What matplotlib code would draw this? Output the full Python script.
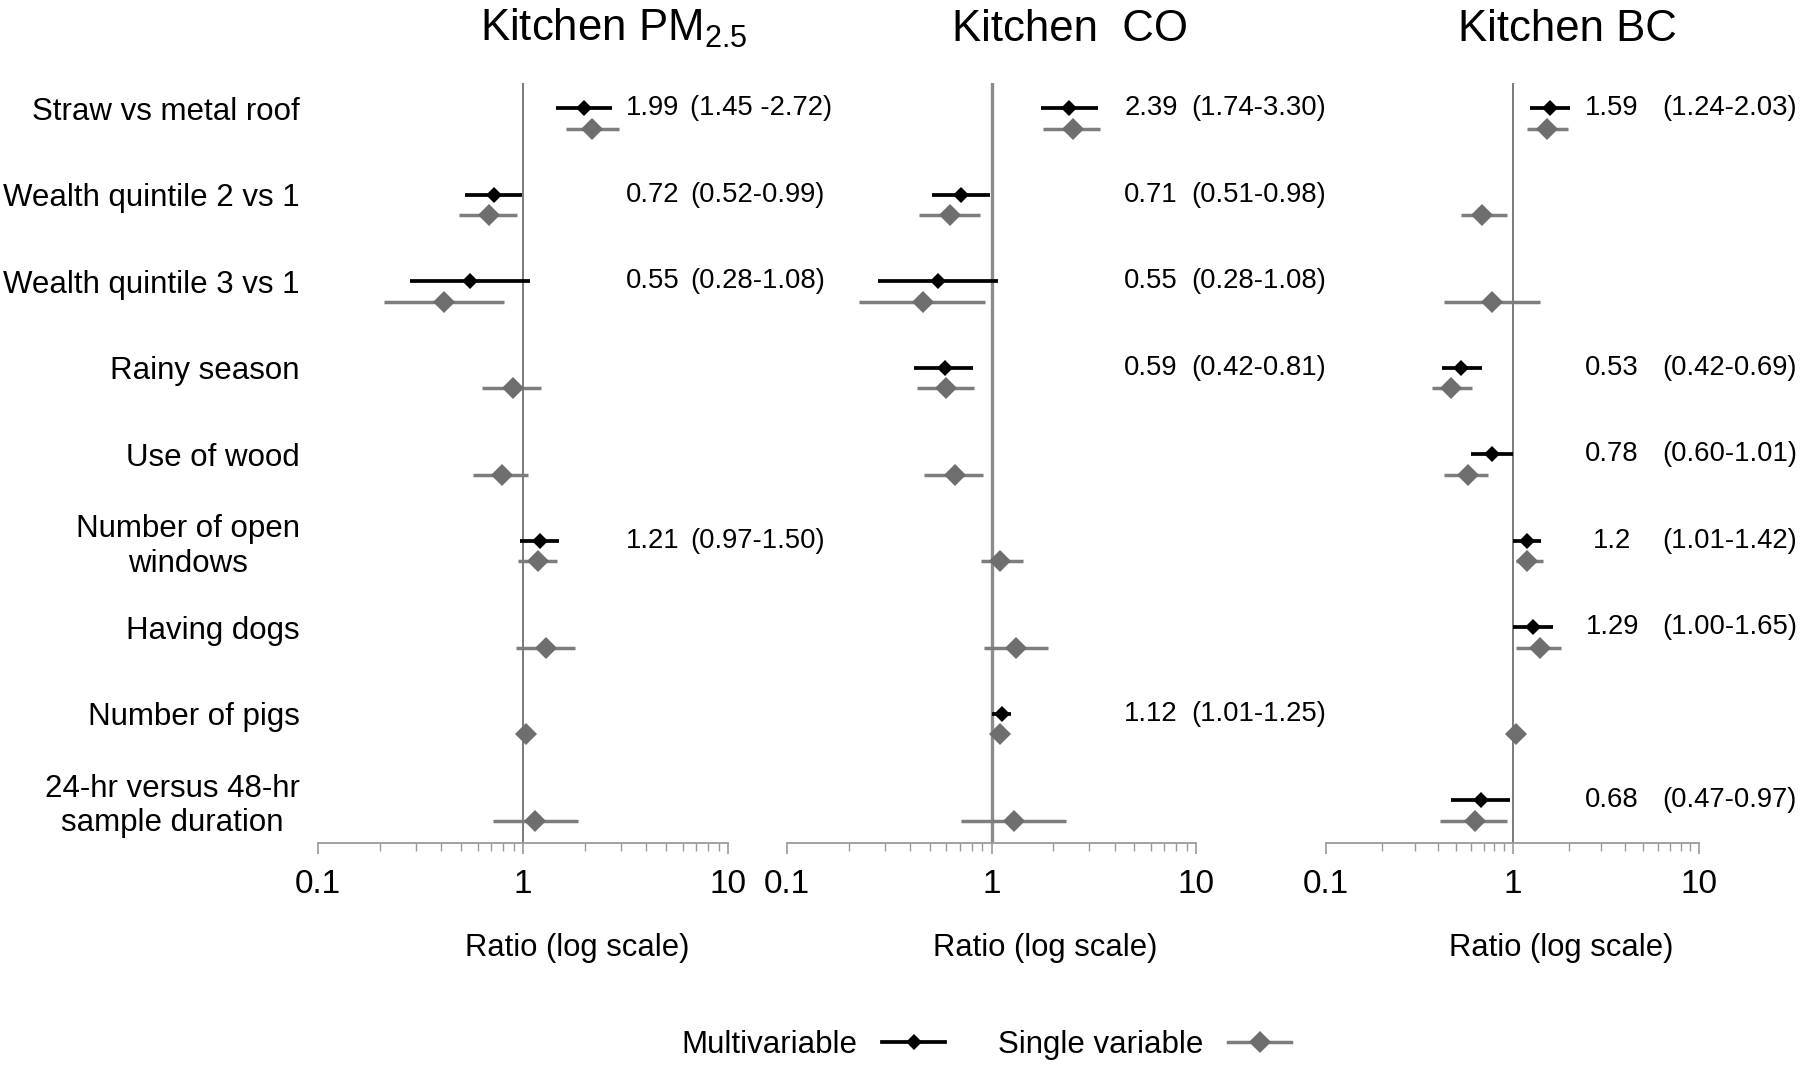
import numpy as np
import matplotlib
matplotlib.use("Agg")
import matplotlib.pyplot as plt
from matplotlib.lines import Line2D
from matplotlib.ticker import FixedLocator, NullFormatter

plt.rcParams['font.family'] = ['Liberation Sans', 'DejaVu Sans']
plt.rcParams['mathtext.fontset'] = 'custom'
plt.rcParams['mathtext.rm'] = 'Liberation Sans'
plt.rcParams['mathtext.it'] = 'Liberation Sans'

nan = np.nan

categories = ["Straw vs metal roof", "Wealth quintile 2 vs 1", "Wealth quintile 3 vs 1",
              "Rainy season", "Use of wood", "Number of open\nwindows", "Having dogs",
              "Number of pigs", "24-hr versus 48-hr\nsample duration"]

titles = ["Kitchen PM$_{2.5}$", "Kitchen  CO", "Kitchen BC"]

# Kitchen PM2.5
pm_multi = [1.99, 0.72, 0.55, nan, nan, 1.21, nan, nan, nan]
pm_multi_lo = [1.45, 0.52, 0.28, nan, nan, 0.97, nan, nan, nan]
pm_multi_hi = [2.72, 0.99, 1.08, nan, nan, 1.50, nan, nan, nan]
pm_single = [2.18, 0.68, 0.41, 0.89, 0.79, 1.18, 1.29, 1.04, 1.14]
pm_single_lo = [1.62, 0.49, 0.21, 0.63, 0.57, 0.95, 0.92, 1.01, 0.71]
pm_single_hi = [2.95, 0.94, 0.81, 1.23, 1.06, 1.47, 1.80, 1.07, 1.85]
pm_est_text = ["1.99", "0.72", "0.55", "", "", "1.21", "", "", ""]
pm_ci_text = ["(1.45 -2.72)", "(0.52-0.99)", "(0.28-1.08)", "", "", "(0.97-1.50)", "", "", ""]

# Kitchen CO
co_multi = [2.39, 0.71, 0.55, 0.59, nan, nan, nan, 1.12, nan]
co_multi_lo = [1.74, 0.51, 0.28, 0.42, nan, nan, nan, 1.01, nan]
co_multi_hi = [3.30, 0.98, 1.08, 0.81, nan, nan, nan, 1.25, nan]
co_single = [2.49, 0.63, 0.46, 0.60, 0.66, 1.10, 1.32, 1.10, 1.29]
co_single_lo = [1.78, 0.44, 0.225, 0.43, 0.47, 0.89, 0.92, 1.05, 0.71]
co_single_hi = [3.41, 0.88, 0.93, 0.82, 0.91, 1.42, 1.89, 1.15, 2.32]
co_est_text = ["2.39", "0.71", "0.55", "0.59", "", "", "", "1.12", ""]
co_ci_text = ["(1.74-3.30)", "(0.51-0.98)", "(0.28-1.08)", "(0.42-0.81)", "", "", "", "(1.01-1.25)", ""]

# Kitchen BC
bc_multi = [1.59, nan, nan, 0.53, 0.78, 1.2, 1.29, nan, 0.68]
bc_multi_lo = [1.24, nan, nan, 0.42, 0.60, 1.01, 1.00, nan, 0.47]
bc_multi_hi = [2.03, nan, nan, 0.69, 1.01, 1.42, 1.65, nan, 0.97]
bc_single = [1.54, 0.69, 0.78, 0.47, 0.575, 1.19, 1.41, 1.04, 0.63]
bc_single_lo = [1.19, 0.53, 0.43, 0.37, 0.43, 1.04, 1.05, 1.01, 0.41]
bc_single_hi = [1.99, 0.94, 1.41, 0.61, 0.74, 1.46, 1.82, 1.07, 0.93]
bc_est_text = ["1.59", "", "", "0.53", "0.78", "1.2", "1.29", "", "0.68"]
bc_ci_text = ["(1.24-2.03)", "", "", "(0.42-0.69)", "(0.60-1.01)", "(1.01-1.42)", "(1.00-1.65)", "", "(0.47-0.97)"]

x_ticks = [0.1, 1, 10]
x_ticklabels = ["0.1", "1", "10"]

panels = [
    dict(multi=pm_multi, mlo=pm_multi_lo, mhi=pm_multi_hi, single=pm_single, slo=pm_single_lo,
         shi=pm_single_hi, est=pm_est_text, ci=pm_ci_text),
    dict(multi=co_multi, mlo=co_multi_lo, mhi=co_multi_hi, single=co_single, slo=co_single_lo,
         shi=co_single_hi, est=co_est_text, ci=co_ci_text),
    dict(multi=bc_multi, mlo=bc_multi_lo, mhi=bc_multi_hi, single=bc_single, slo=bc_single_lo,
         shi=bc_single_hi, est=bc_est_text, ci=bc_ci_text),
]

# layout / style
W, H = 1800, 1078
ax_rects = [(318, 410), (787, 409), (1326, 373)]
ax_bottom_px, ax_top_px = 843, 83
title_x_px = [614, 1070, 1567]
est_x = [0.816, 0.890, 0.767]
ci_x = [0.908, 0.988, 0.902]
xlabel_x = [0.631, 0.631, 0.630]
vline_style = [dict(color="#7a7a7a", lw=1.4), dict(color="#8c8c8c", lw=2.4), dict(color="#7a7a7a", lw=1.4)]

BLACK = "#000000"
GREY = "#6e6e6e"
GREY_LINE = "#7d7d7d"
off = 0.12

fig = plt.figure(figsize=(W / 100, H / 100), dpi=100)
rows = np.arange(len(categories))

for k, p in enumerate(panels):
    left, width = ax_rects[k]
    ax = fig.add_axes([left / W, 1 - ax_bottom_px / H, width / W, (ax_bottom_px - ax_top_px) / H])
    ax.patch.set_visible(False)
    ax.set_xscale("log")
    ax.set_xlim(0.1, 10)
    ax.set_ylim(8.376, -0.41)
    ax.axvline(1, zorder=1, **vline_style[k])

    s = np.array(p["single"], float); slo = np.array(p["slo"], float); shi = np.array(p["shi"], float)
    ax.errorbar(s, rows + off, xerr=[s - slo, shi - s], fmt="D", color=GREY, ecolor=GREY_LINE,
                ms=11.5, elinewidth=2.5, capsize=0, mew=0, zorder=3)
    m = np.array(p["multi"], float); mlo = np.array(p["mlo"], float); mhi = np.array(p["mhi"], float)
    ok = ~np.isnan(m)
    ax.errorbar(m[ok], rows[ok] - off, xerr=[m[ok] - mlo[ok], mhi[ok] - m[ok]], fmt="D", color=BLACK,
                ms=8, elinewidth=2.7, capsize=0, mew=0, zorder=4)

    tr = matplotlib.transforms.blended_transform_factory(ax.transAxes, ax.transData)
    for i in rows:
        if p["est"][i]:
            ax.text(est_x[k], i - off, p["est"][i], transform=tr, ha="center", va="center",
                    fontsize=19.8, clip_on=False)
            ax.text(ci_x[k], i - off, p["ci"][i], transform=tr, ha="left", va="center",
                    fontsize=19.8, clip_on=False)

    for sp in ["top", "right", "left"]:
        ax.spines[sp].set_visible(False)
    ax.spines["bottom"].set_color("#9a9a9a")
    ax.spines["bottom"].set_linewidth(1.3)
    ax.xaxis.set_major_locator(FixedLocator(x_ticks))
    ax.set_xticklabels(x_ticklabels)
    ax.xaxis.set_minor_locator(matplotlib.ticker.LogLocator(base=10, subs=np.arange(2, 10)))
    ax.xaxis.set_minor_formatter(NullFormatter())
    ax.tick_params(axis="x", which="major", direction="out", length=8, width=1.2, color="#9a9a9a",
                   labelsize=24, pad=11)
    ax.tick_params(axis="x", which="minor", direction="out", length=6, width=1.0, color="#9a9a9a")

    if k == 0:
        ax.set_yticks(rows - off)
        ax.set_yticklabels(categories)
        ax.tick_params(axis="y", length=0, pad=13, labelsize=22.5)
        for lbl in ax.get_yticklabels():
            lbl.set_multialignment("center")
    else:
        ax.set_yticks([])

    ax.text(xlabel_x[k], (ax_bottom_px - 948) / (ax_bottom_px - ax_top_px), "Ratio (log scale)",
            transform=ax.transAxes, ha="center", va="center", fontsize=22.3)
    fig.text(title_x_px[k] / W, 1 - 41 / H, titles[k], ha="center", va="baseline", fontsize=31.5)

handles = [Line2D([], [], color=BLACK, marker="D", ms=8, lw=2.7, mew=0),
           Line2D([], [], color=GREY_LINE, marker="D", mfc=GREY, ms=11.5, lw=2.5, mew=0)]
fig.legend(handles, ["Multivariable", "Single variable"], loc="center",
           bbox_to_anchor=(986 / W, 1 - 1045 / H), ncol=2, frameon=False, markerfirst=False,
           fontsize=22.5, handlelength=2.0, handletextpad=0.8, columnspacing=1.7)

fig.savefig("out.png", dpi=100, facecolor="white")
